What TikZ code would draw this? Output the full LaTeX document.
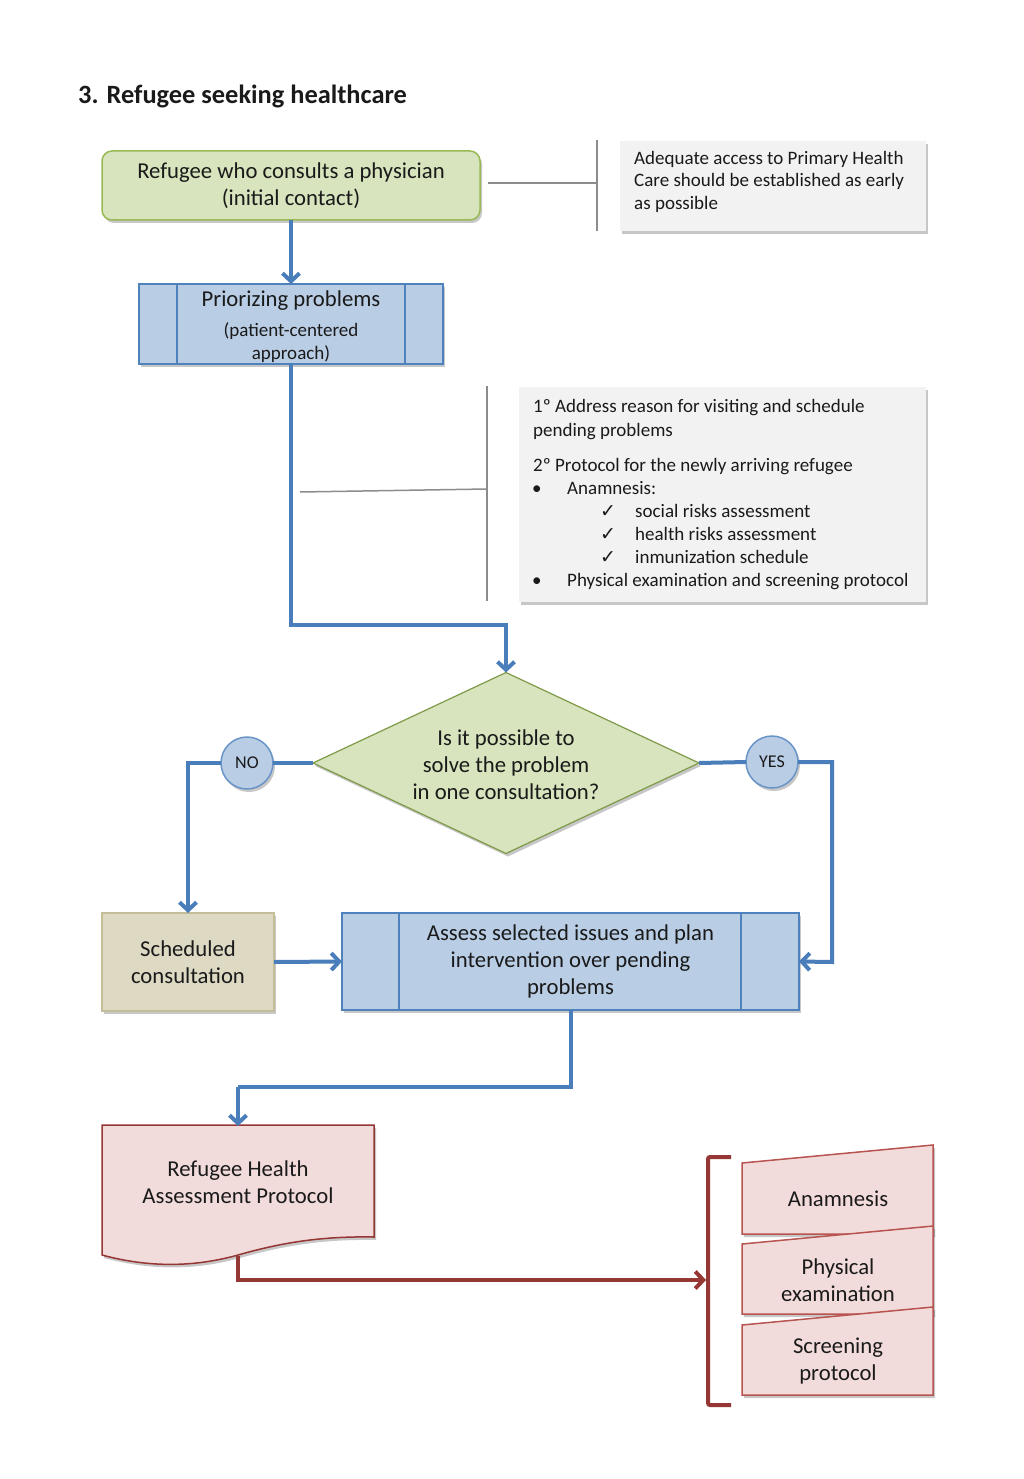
\documentclass[tikz,border=0pt]{standalone}
\usepackage{fontspec}
\setmainfont{Carlito}
\newfontfamily\symfont{DejaVu Sans}
\usetikzlibrary{arrows.meta,shapes.geometric,shadows,calc}
\definecolor{gfill}{HTML}{D7E4BD}
\definecolor{gdraw}{HTML}{98B954}
\definecolor{ddraw}{HTML}{7F9A48}
\definecolor{bfill}{HTML}{B9CDE5}
\definecolor{bdraw}{HTML}{4F81BD}
\definecolor{cblue}{HTML}{4A7EBB}
\definecolor{tfill}{HTML}{DDD9C3}
\definecolor{tdraw}{HTML}{C4BD97}
\definecolor{pfill}{HTML}{F2DCDB}
\definecolor{pdraw}{HTML}{953735}
\definecolor{mdraw}{HTML}{B85450}
\definecolor{cfill}{HTML}{F2F2F2}
\definecolor{gline}{HTML}{8C8C8C}
\definecolor{txt}{HTML}{1A1A1A}
\newcommand\myfs[2]{\fontsize{#1}{#2}\selectfont}
\begin{document}
\begin{tikzpicture}[x=1pt,y=-1pt,
  shad/.style={drop shadow={shadow xshift=2pt,shadow yshift=-3pt,opacity=0.22,fill=black}},
  box/.style={draw,line width=1.5pt,inner sep=0pt,outer sep=0pt,align=center,font=\myfs{22.7}{27},text=txt},
  greenbox/.style={box,fill=gfill,draw=gdraw,rounded corners=10pt,shad},
  procbox/.style={box,fill=bfill,draw=bdraw,shad},
  tanbox/.style={box,fill=tfill,draw=tdraw,shad},
  callout/.style={fill=cfill,inner sep=0pt,outer sep=0pt,shad},
  ctext/.style={anchor=base west,inner sep=0pt,font=\myfs{19}{22},text=txt},
  chk/.style={anchor=base west,inner sep=0pt,font=\symfont\myfs{19}{22},text=txt},
  mtext/.style={anchor=base,inner sep=0pt,text=txt},
  ttext/.style={align=center,inner sep=0pt,font=\myfs{22.7}{27},text=txt},
  yn/.style={circle,draw=bdraw!85,fill=bfill,line width=1.5pt,minimum size=52pt,inner sep=0pt,outer sep=0pt,font=\myfs{18}{20},text=txt,shad},
  flow/.style={draw=cblue,line width=4pt,-{Straight Barb[length=8pt,width=17pt]}},
  flowplain/.style={draw=cblue,line width=4pt},
  redflow/.style={draw=pdraw,line width=4pt,-{Straight Barb[length=8pt,width=17pt]}},
  grayline/.style={draw=gline,line width=1.5pt},
  manual/.style={fill=pfill,draw=mdraw,line width=1.5pt,shad}
]
\useasboundingbox (0,0) rectangle (1024,1479);
\fill[white] (0,0) rectangle (1024,1479);

% title
\node[anchor=base west,inner sep=0pt,font=\bfseries\myfs{26.4}{30},text=txt] (title) at (78,103.5) {3. Refugee seeking healthcare};

% green start
\node[greenbox,minimum width=378pt,minimum height=69pt] (g) at (291,185.5) {Refugee who consults a physician\\(initial contact)};

% callout 1
\node[callout,minimum width=306pt,minimum height=90pt] (c1) at (773,186) {};
\node[ctext] (c1a) at (634,164.5) {Adequate access to Primary Health};
\node[ctext] (c1b) at (634,187) {Care should be established as early};
\node[ctext] (c1c) at (634,209.5) {as possible};
\coordinate (c1l) at (488,183);
\coordinate (c1m) at (597,183);
\draw[grayline] (c1l) -- (c1m);
\coordinate (c1t) at (597,140);
\coordinate (c1u) at (597,231);
\draw[grayline] (c1t) -- (c1u);

% process 1
\node[procbox,minimum width=304pt,minimum height=80pt] (p1) at (291,324) {};
\draw[draw=bdraw,line width=1.5pt] ([xshift=38pt]p1.north west) -- ([xshift=38pt]p1.south west);
\draw[draw=bdraw,line width=1.5pt] ([xshift=-38pt]p1.north east) -- ([xshift=-38pt]p1.south east);
\node[mtext,font=\myfs{22.7}{27}] (p1a) at (291,306.5) {Priorizing problems};
\node[mtext,font=\myfs{19}{22}] (p1b) at (291,336) {(patient-centered};
\node[mtext,font=\myfs{19}{22}] (p1c) at (291,359) {approach)};

\draw[flow] (g.south) -- (p1.north);

% callout 2
\node[callout,minimum width=407pt,minimum height=215pt] (c2) at (722.5,494.5) {};
\node[ctext] (l1) at (533,412) {1º Address reason for visiting and schedule};
\node[ctext] (l2) at (533,436) {pending problems};
\node[ctext] (l3) at (533,471) {2º Protocol for the newly arriving refugee};
\node[ctext] (l4b) at (532,494) {•};
\node[ctext] (l4) at (567,494) {Anamnesis:};
\node[chk] (l5c) at (600,517) {✓};
\node[ctext] (l5) at (635,517) {social risks assessment};
\node[chk] (l6c) at (600,540) {✓};
\node[ctext] (l6) at (635,540) {health risks assessment};
\node[chk] (l7c) at (600,563) {✓};
\node[ctext] (l7) at (635,563) {inmunization schedule};
\node[ctext] (l8b) at (532,586) {•};
\node[ctext] (l8) at (567,586) {Physical examination and screening protocol};
\coordinate (c2l) at (300,492);
\coordinate (c2m) at (487,489);
\draw[grayline] (c2l) -- (c2m);
\coordinate (c2t) at (487,386);
\coordinate (c2u) at (487,601);
\draw[grayline] (c2t) -- (c2u);

% decision
\node[diamond,draw=ddraw,fill=gfill,line width=1.2pt,minimum width=386pt,minimum height=181pt,inner sep=0pt,outer sep=0pt,shad] (d) at (506,763) {};
\node[ttext] (dt) at (506,765) {Is it possible to\\solve the problem\\in one consultation?};
\coordinate (b1) at (506,625);
\draw[flow] (p1.south) |- (b1) -- (d.north);

\node[yn] (no) at (247,763) {NO};
\node[yn] (yes) at (772,762) {YES};

\node[tanbox,minimum width=172pt,minimum height=98pt] (s) at (188,962) {Scheduled\\consultation};

\node[procbox,minimum width=457pt,minimum height=97pt] (a2) at (570.5,961.5) {Assess selected issues and plan\\intervention over pending\\problems};
\draw[draw=bdraw,line width=1.5pt] ([xshift=57pt]a2.north west) -- ([xshift=57pt]a2.south west);
\draw[draw=bdraw,line width=1.5pt] ([xshift=-58pt]a2.north east) -- ([xshift=-58pt]a2.south east);

\draw[flowplain] (d.west) -- (no.east);
\draw[flow] (no.west) -| (s.north);
\draw[flowplain] (d.east) -- (yes.west);
\coordinate (b2) at (832,962);
\draw[flow] (yes.east) -| (b2) -- (a2.east);
\draw[flow] (s.east) -- (a2.west);

% document
\path[fill=pfill,draw=pdraw,line width=1.5pt,shad] (102,1125) -- (374,1125) -- (374,1237)
  .. controls (320,1236) and (280,1243) .. (238,1255)
  .. controls (195,1267) and (150,1268) .. (102,1255) -- cycle;
\node[ttext,outer sep=0pt,minimum width=272pt,minimum height=112pt] (doc) at (238,1182) {Refugee Health\\Assessment Protocol};
\coordinate (b3) at (238,1087);
\draw[flowplain] (a2.south) |- (b3);
\draw[flow] (b3) -- (doc.north);

% manual inputs
\path[manual] (742,1163) -- (933,1145) -- (933,1234) -- (742,1234) -- cycle;
\node[mtext,font=\myfs{22.7}{27}] (m1) at (838,1206.5) {Anamnesis};
\path[manual] (742,1244) -- (933,1226) -- (933,1314) -- (742,1314) -- cycle;
\node[ttext] (m2) at (838,1280.5) {Physical\\examination};
\path[manual] (742,1325) -- (933,1307) -- (933,1395) -- (742,1395) -- cycle;
\node[ttext] (m3) at (838,1361.5) {Screening\\protocol};

% bracket
\draw[draw=pdraw,line width=4pt,rounded corners=2pt] (731,1157) -- (708,1157) -- (708,1405) -- (731,1405);
\coordinate (docb) at (238,1256);
\coordinate (brk) at (706,1280);
\draw[redflow] (docb) |- (brk);
\end{tikzpicture}
\end{document}
